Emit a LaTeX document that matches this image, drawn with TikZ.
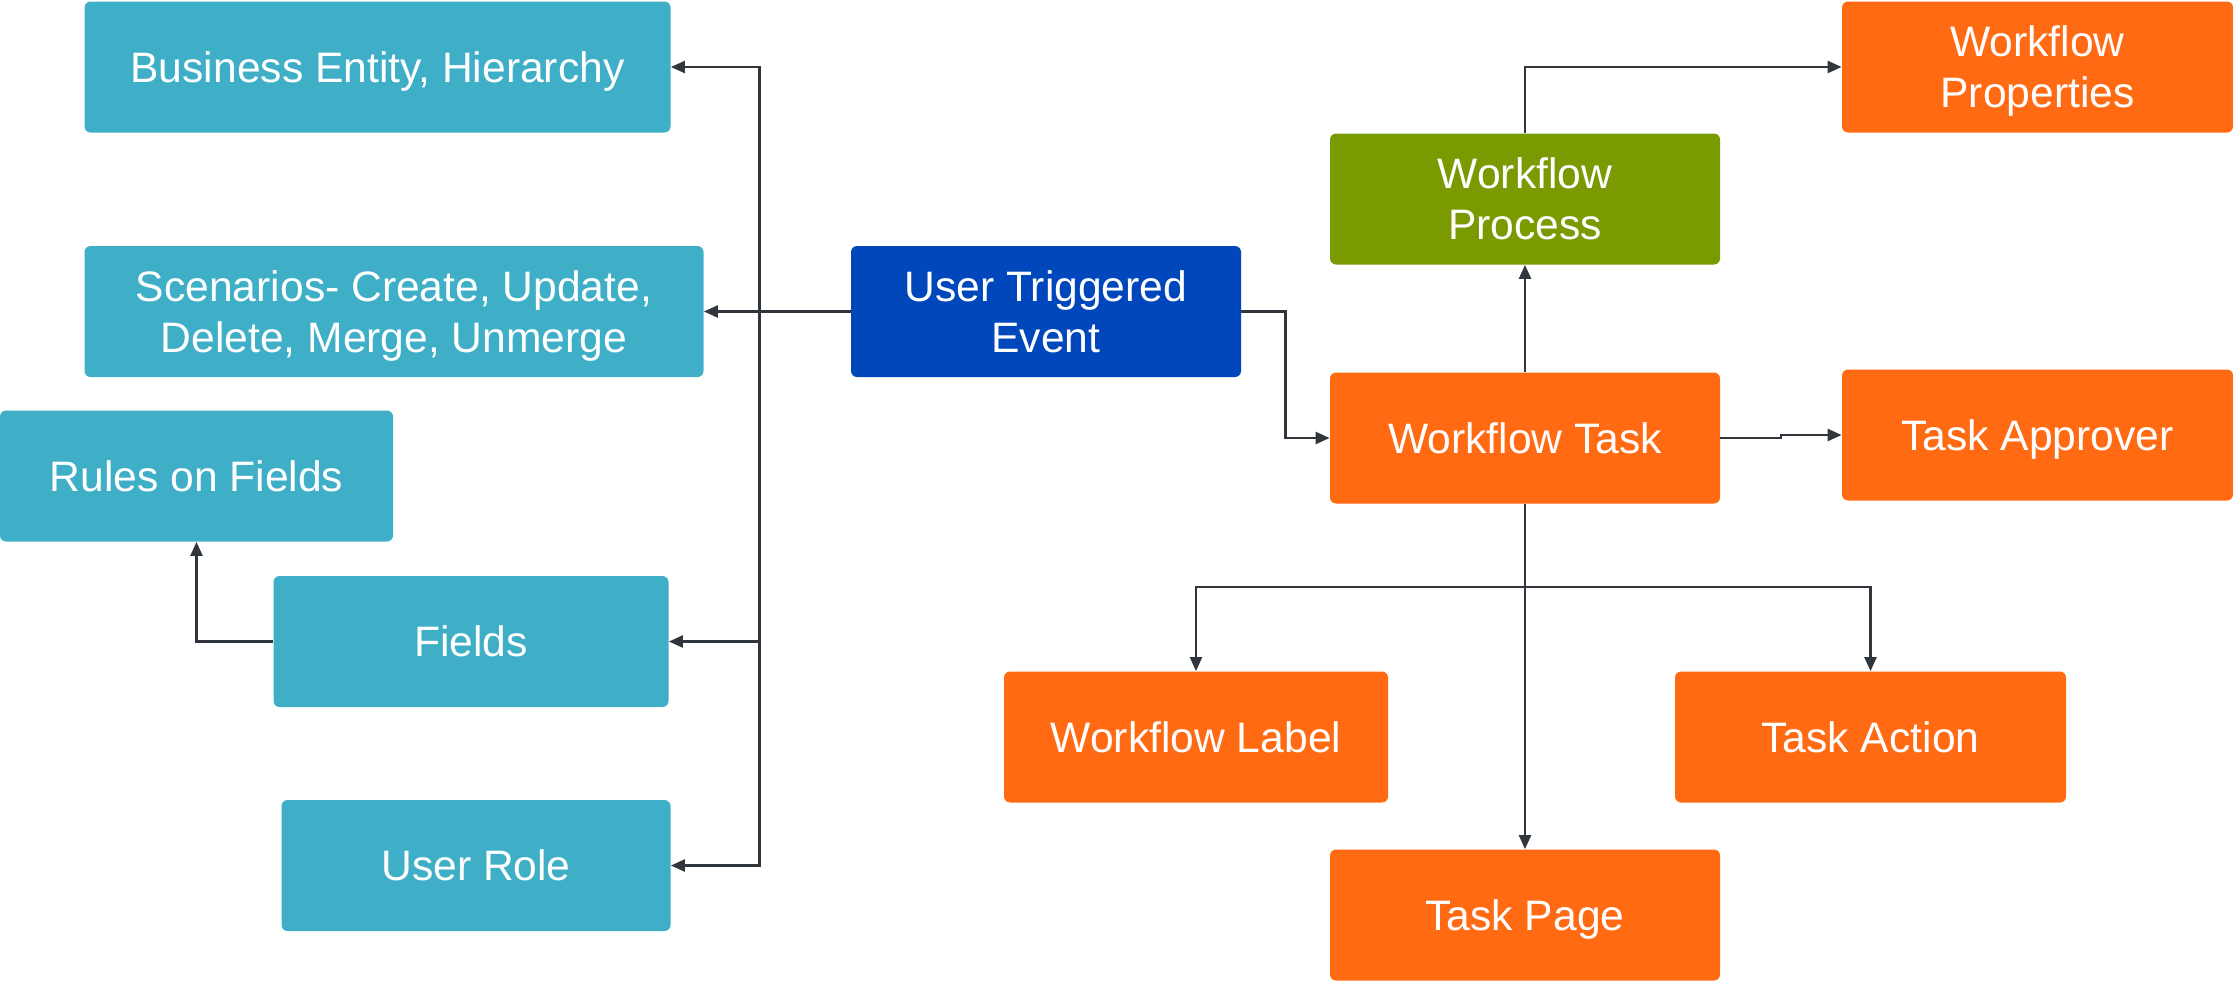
\documentclass[tikz,border=0pt]{standalone}
\usepackage{fontspec}
\setmainfont{Liberation Sans}
\usetikzlibrary{arrows.meta}
\definecolor{tealbox}{HTML}{3FAFC8}
\definecolor{bluebox}{HTML}{0047BB}
\definecolor{greenbox}{HTML}{7A9A01}
\definecolor{orangebox}{HTML}{FF6A13}
\definecolor{linecol}{HTML}{30363B}
\begin{document}
\begin{tikzpicture}[x=0.5pt,y=-0.5pt,
  box/.style={rectangle, rounded corners=3pt, inner sep=0pt, align=center, text=white,
    font=\fontsize{21.3pt}{25.5pt}\selectfont, minimum height=65.5pt, text depth=0pt},
  teal/.style={box, fill=tealbox},
  blue/.style={box, fill=bluebox},
  green/.style={box, fill=greenbox},
  orange/.style={box, fill=orangebox},
  arr/.style={draw=linecol, line width=1.2pt, -{Triangle[length=7pt,width=6pt]}},
  ln/.style={draw=linecol, line width=1.2pt}]
\useasboundingbox (0,0) rectangle (2233,981);
% left group
\node[teal, minimum width=293pt] (biz) at (377.5,67) {Business Entity, Hierarchy};
\node[teal, minimum width=309.5pt] (scen) at (394,311.5) {Scenarios- Create, Update,\\Delete, Merge, Unmerge};
\node[teal, minimum width=196.5pt] (rules) at (196.5,476) {Rules on Fields};
\node[teal, minimum width=197.5pt] (fields) at (471,641.5) {Fields};
\node[teal, minimum width=194.5pt] (role) at (476,865.5) {User Role};
\node[blue, minimum width=195pt] (ute) at (1046,311.5) {User Triggered\\Event};
% right group
\node[green, minimum width=195pt] (wproc) at (1525,199) {Workflow\\Process};
\node[orange, minimum width=195.5pt] (wprops) at (2037.5,67) {Workflow\\Properties};
\node[orange, minimum width=195pt] (wtask) at (1525,438) {Workflow Task};
\node[orange, minimum width=195.5pt] (tappr) at (2037.5,435) {Task Approver};
\node[orange, minimum width=192pt] (wlabel) at (1196,737) {Workflow Label};
\node[orange, minimum width=195.5pt] (taction) at (1870.5,737) {Task Action};
\node[orange, minimum width=195pt] (tpage) at (1525,915) {Task Page};
% connectors, left
\coordinate (bus) at (759.5,311.5);
\draw[ln] (ute.west) -- (bus);
\draw[arr] (bus) |- (biz.east);
\draw[arr] (bus) -- (scen.east);
\draw[arr] (bus) |- (fields.east);
\draw[arr] (bus) |- (role.east);
\draw[arr] (fields.west) -| (rules.south);
% connectors, right
\coordinate (j1) at (1285.5,311.5);
\draw[arr] (ute.east) -- (j1) |- (wtask.west);
\draw[arr] (wtask.north) -- (wproc.south);
\draw[arr] (wproc.north) |- (wprops.west);
\coordinate (j2) at (1781,438);
\coordinate (j3) at (1781,435);
\draw[arr] (wtask.east) -- (j2) -- (j3) -- (tappr.west);
\draw[arr] (wtask.south) -- (tpage.north);
\coordinate (split) at (1525,587);
\draw[arr] (split) -| (wlabel.north);
\draw[arr] (split) -| (taction.north);
\end{tikzpicture}
\end{document}
